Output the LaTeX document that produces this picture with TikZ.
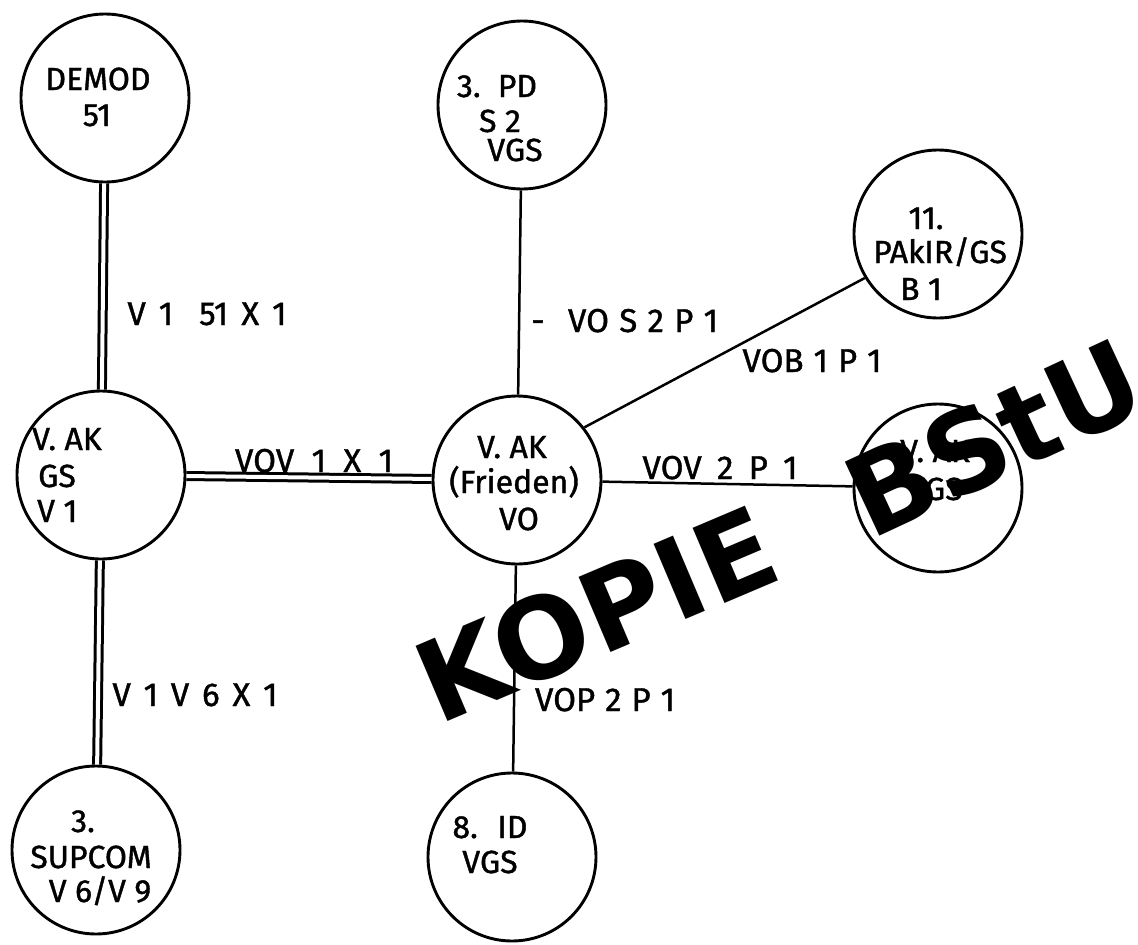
\documentclass[tikz,border=0pt]{standalone}
\usepackage{fontspec}
\setmainfont{Fira Sans}
\newfontfamily\diagfont{Fira Sans}[UprightFeatures={FakeBold=1.2}]
\newfontfamily\stampfont{DejaVu Sans}
\newcommand{\spreadto}[2]{\makebox[#1][s]{#2}}
\begin{document}
\begin{tikzpicture}[x=1pt,y=-1pt,
  unit/.style={circle, draw, line width=2.9pt, minimum size=168pt, inner sep=0pt},
  txt/.style={font=\diagfont\fontsize{32}{35}\selectfont, inner sep=0pt, anchor=base},
  ltxt/.style={font=\diagfont\fontsize{32}{35}\selectfont, inner sep=0pt, anchor=base west},
  lbl/.style={font=\diagfont\fontsize{33}{36}\selectfont, inner sep=0pt, anchor=base},
  link/.style={line width=2.5pt},
  dlink/.style={double, line width=3pt, double distance=4pt},
  stamp/.style={font=\stampfont\bfseries\fontsize{112}{112}\selectfont, inner sep=0pt, anchor=center}]
\useasboundingbox[fill=white] (0,0) rectangle (1138,945);

% circles
\node[unit] (demod) at (105,98) {};
\node[unit] (pd) at (522,105) {};
\node[unit] (pakir) at (938,234) {};
\node[unit] (gs) at (101,475) {};
\node[unit] (vo) at (517,480) {};
\node[unit] (vgs) at (938,488) {};
\node[unit] (sup) at (96,850) {};
\node[unit] (id) at (512,857) {};

% circle texts
\node[txt] (t1) at (98,90) {DEMOD};
\node[txt] (t2) at (97,126) {51};
\node[txt] (t3) at (497,97) {\spreadto{80pt}{3. PD}};
\node[txt] (t4) at (500,132) {S 2};
\node[txt] (t5) at (515,161) {VGS};
\node[txt] (t6) at (926,229) {11.};
\node[txt] (t7) at (940,263) {PAkIR/GS};
\node[txt] (t8) at (921,300) {B 1};
\node[ltxt] (t9) at (32,450) {V. AK};
\node[ltxt] (t10) at (38,487) {GS};
\node[ltxt] (t11) at (37,522) {V 1};
\node[txt] (t12) at (512,458) {V. AK};
\node[txt] (t13) at (514,493) {(Frieden)};
\node[txt] (t14) at (519,530) {VO};
\node[txt] (t15) at (935,462) {V. AK};
\node[txt] (t16) at (935,500) {VGS};
\node[txt] (t17) at (83,832) {3.};
\node[txt] (t18) at (91,868) {SUPCOM};
\node[txt] (t19) at (100,902) {V 6/V 9};
\node[txt] (t20) at (490,838) {\spreadto{75pt}{8. ID}};
\node[txt] (t21) at (490,873) {VGS};

% connectors
\draw[dlink] (demod) -- (gs);
\draw[dlink] (gs) -- (sup);
\draw[dlink] (gs) -- (vo);
\draw[link] (vo) -- (pd);
\draw[link] (vo.38) -- (pakir.211);
\draw[link] (vo) -- (vgs);
\draw[link] (vo) -- (id);

% connector labels
\node[lbl] (l1) at (207,325) {\spreadto{159pt}{V 1 {} 51 X 1}};
\node[lbl] (l2a) at (538,332) {-};
\node[lbl] (l2) at (643,332) {\spreadto{150pt}{VO S 2 P 1}};
\node[lbl] (l3) at (812,372) {\spreadto{139pt}{VOB 1 P 1}};
\node[lbl] (l4) at (314,472) {\spreadto{158pt}{VOV 1 X 1}};
\node[lbl] (l5) at (720,479) {\spreadto{155pt}{VOV 2 P 1}};
\node[lbl] (l6) at (195,706) {\spreadto{165pt}{V 1 V 6 X 1}};
\node[lbl] (l7) at (605,711) {\spreadto{140pt}{VOP 2 P 1}};

% stamps
\node[stamp, rotate=23] (kopie) at (596,614) {KOPIE};
\node[stamp, rotate=25] (bstu) at (994,438) {BStU};
\end{tikzpicture}
\end{document}
